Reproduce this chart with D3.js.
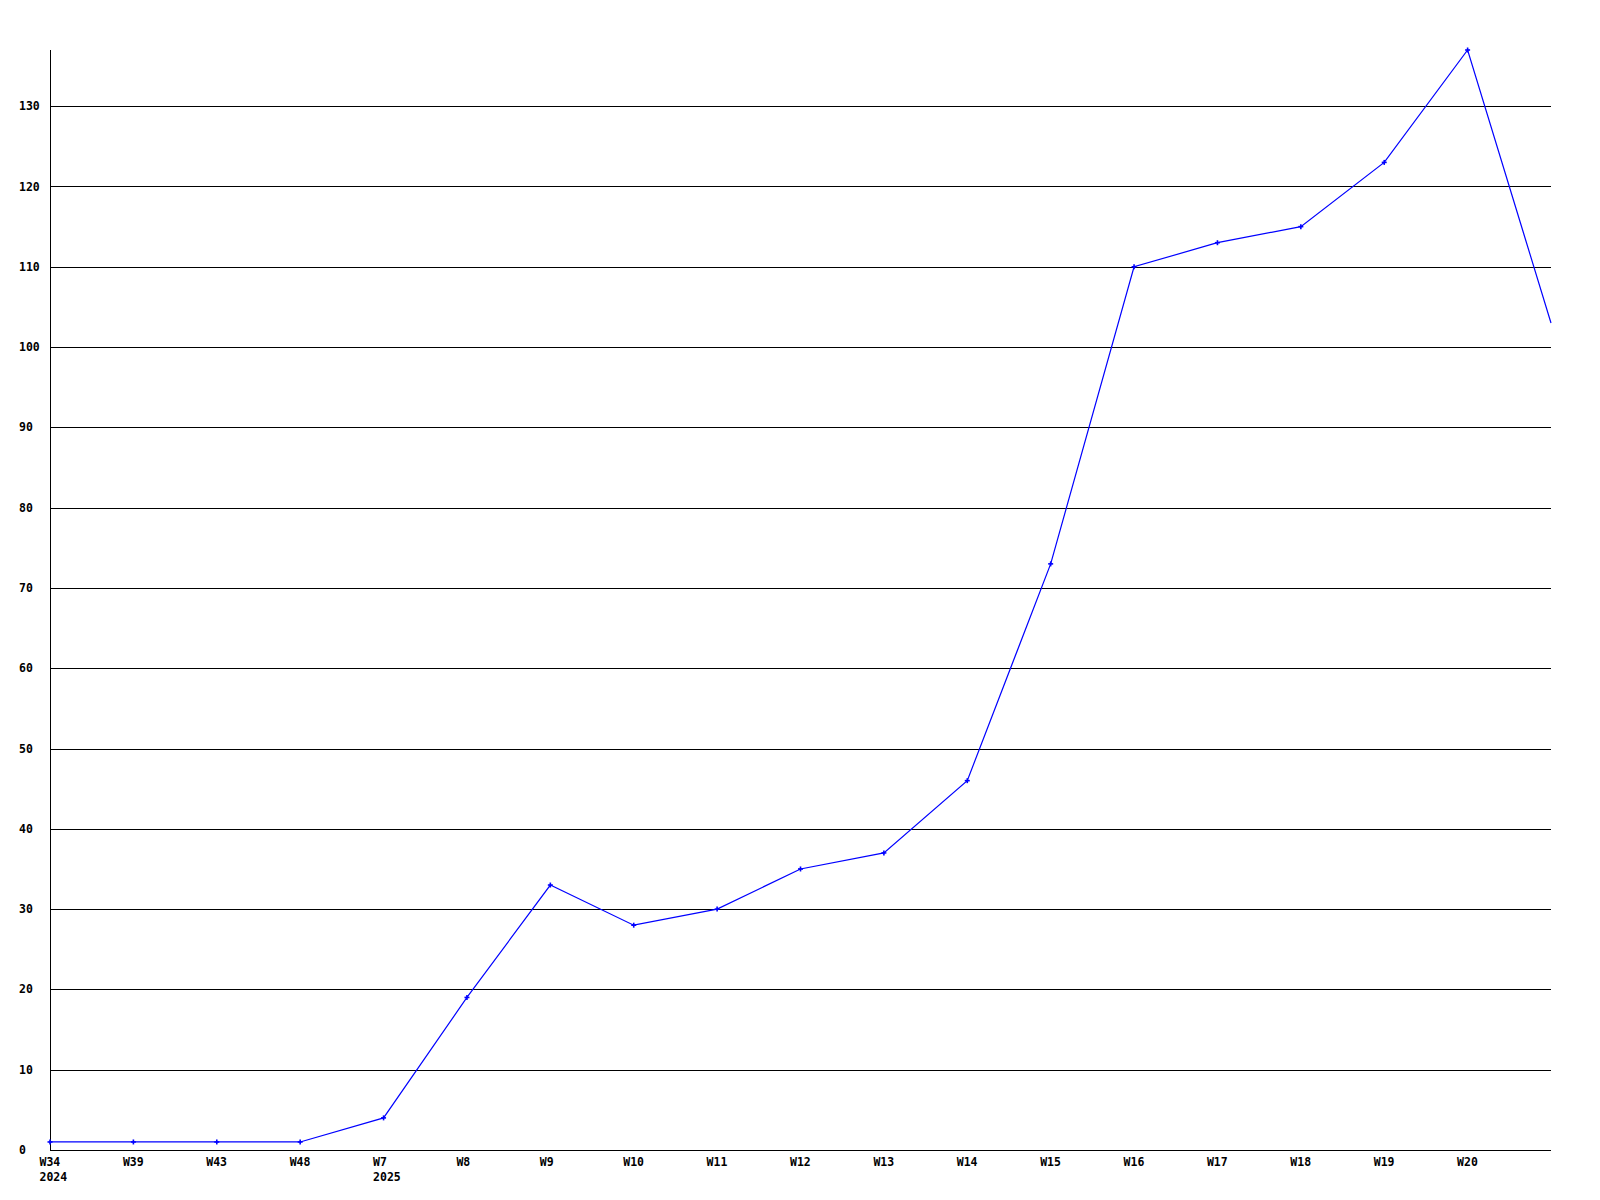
<!DOCTYPE html>
<html>
<head>
<meta charset="utf-8">
<script src="https://cdn.jsdelivr.net/npm/d3@7"></script>
<style>
  html, body { margin: 0; padding: 0; background: #fff; }
  svg { display: block; }
  text { font-family: "DejaVu Sans Mono", "Liberation Mono", monospace; font-weight: bold; font-size: 11.5px; fill: #000; }
</style>
</head>
<body>
<svg id="chart" width="1600" height="1200"></svg>
<script>
const weeks = ["W34","W39","W43","W48","W7","W8","W9","W10","W11","W12","W13","W14","W15","W16","W17","W18","W19","W20",""];
const years = ["2024","","","","2025","","","","","","","","","","","","","",""];
const values = [1,1,1,1,4,19,33,28,30,35,37,46,73,110,113,115,123,137,103];
const yTicks = [0,10,20,30,40,50,60,70,80,90,100,110,120,130];

(function () {
const svg = d3.select("#chart");
const mLeft = 50, mRight = 1551, mTop = 50, mBottom = 1150;

const x = d3.scalePoint().domain(d3.range(values.length)).range([mLeft, mRight]);
const y = d3.scaleLinear().domain([0, 137]).range([mBottom, mTop]);

// grid lines
svg.append("g").selectAll("line").data(yTicks.filter(d => d > 0)).join("line")
  .attr("x1", mLeft).attr("x2", mRight)
  .attr("y1", d => Math.round(y(d)) + 0.5).attr("y2", d => Math.round(y(d)) + 0.5)
  .attr("stroke", "#000").attr("stroke-width", 1).attr("shape-rendering", "crispEdges");

// axes lines
svg.append("line").attr("x1", mLeft + 0.5).attr("x2", mLeft + 0.5).attr("y1", mTop).attr("y2", mBottom)
  .attr("stroke", "#000").attr("shape-rendering", "crispEdges");
svg.append("line").attr("x1", mLeft).attr("x2", mRight).attr("y1", mBottom + 0.5).attr("y2", mBottom + 0.5)
  .attr("stroke", "#000").attr("shape-rendering", "crispEdges");

// y labels (left aligned)
svg.append("g").selectAll("text").data(yTicks).join("text")
  .attr("x", 19).attr("y", d => y(d)).attr("dy", "0.35em")
  .attr("text-anchor", "start").text(d => d);

// x labels (left aligned, offset from tick)
svg.append("g").selectAll("text").data(weeks.map((w, i) => ({w, i}))).join("text")
  .attr("x", d => x(d.i) - 10.5).attr("y", 1166).attr("text-anchor", "start").text(d => d.w);
svg.append("g").selectAll("text").data(years.map((w, i) => ({w, i}))).join("text")
  .attr("x", d => x(d.i) - 10.5).attr("y", 1181).attr("text-anchor", "start").text(d => d.w);

// line
const line = d3.line().x((d, i) => x(i)).y(d => y(d));
svg.append("path").datum(values).attr("d", line)
  .attr("fill", "none").attr("stroke", "#0000ff").attr("stroke-width", 1.2);

// markers (all but last)
const mk = svg.append("g").attr("stroke", "#0000ff").attr("stroke-width", 1.6);
values.slice(0, values.length - 1).forEach((v, i) => {
  const cx = x(i), cy = y(v);
  mk.append("line").attr("x1", cx - 2.5).attr("x2", cx + 2.5).attr("y1", cy).attr("y2", cy);
  mk.append("line").attr("x1", cx).attr("x2", cx).attr("y1", cy - 2.5).attr("y2", cy + 2.5);
});
})();
</script>
</body>
</html>
